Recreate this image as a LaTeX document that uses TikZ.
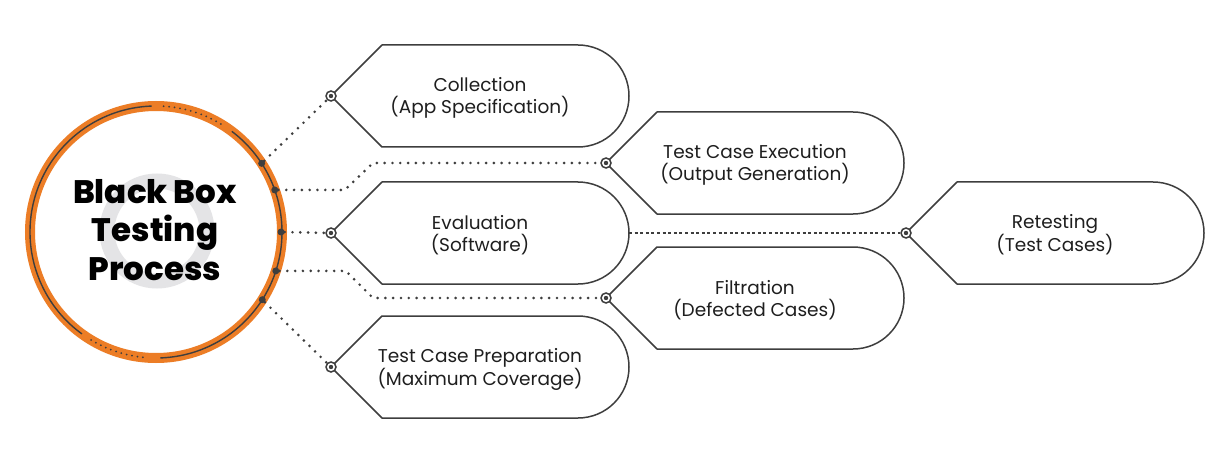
\documentclass[tikz,border=0pt]{standalone}
\usepackage{fontspec}
\setmainfont{Poppins}
\newfontfamily\titlefont{Poppins ExtraBold}
\usetikzlibrary{calc}
\definecolor{ringorange}{RGB}{236,125,38}
\definecolor{darkline}{RGB}{62,62,62}
\definecolor{ringgray}{RGB}{228,228,230}
\definecolor{txt}{RGB}{30,30,30}
\newcommand\stage[4]{%
  \draw[stageline] (#2,#3) -- ++(51,-51) -- ++(196,0)
     arc[start angle=-90,end angle=90,radius=51] -- ++(-196,0) -- cycle;
  \node[dotmark] (#1-in) at (#2,#3) {};
  \coordinate (#1-out) at (#2+298,#3);
  \node[stagetext] (#1) at (#2+149,#3+2) {#4};
}
\begin{document}
\begin{tikzpicture}[x=1pt,y=-1pt,
  stageline/.style={draw=darkline,line width=1.5pt,fill=white,line join=round},
  dotmark/.style={circle,draw=darkline,line width=1.5pt,fill=white,minimum size=10pt,inner sep=0pt,
     path picture={\fill[darkline] (path picture bounding box.center) circle[radius=2.2pt];}},
  stagetext/.style={align=center,text=txt,font=\fontsize{18.5}{21.5}\selectfont},
  ringdot/.style={circle,fill=darkline,minimum size=7pt,inner sep=0pt},
  dotline/.style={draw=darkline,line width=2.9pt,line cap=round,dash pattern=on 0pt off 7.8pt},
  dashline/.style={draw=darkline,line width=1.8pt,dash pattern=on 3pt off 2.6pt},
  ringarc/.style={draw=darkline,line width=1.4pt},
  ringdots/.style={draw=darkline,line width=2pt,line cap=round,dash pattern=on 0pt off 5.5pt}
]
\useasboundingbox[fill=white] (0,0) rectangle (1225,465);

% central circle
\coordinate (C) at (156,232);
\draw[ringgray,line width=15pt] (157,231) circle[radius=50];
\draw[ringorange,line width=10pt] (C) circle[radius=126];
\draw[ringarc] ($(C)+(-92:126)$) arc[start angle=-92,end angle=-234,radius=126];
\draw[ringdots] ($(C)+(-239:126)$) arc[start angle=-239,end angle=-266,radius=126];
\draw[ringarc] ($(C)+(-272:126)$) arc[start angle=-272,end angle=-413,radius=126];
\draw[ringdots] ($(C)+(-59:126)$) arc[start angle=-59,end angle=-87,radius=126];
\node[align=center,font=\fontsize{32.5}{38.5}\selectfont\titlefont,text=black] (title) at (155,230)
  {Black Box\\Testing\\Process};

\node[ringdot] (r1) at ($(C)+(-33:126)$) {};
\node[ringdot] (r2) at ($(C)+(-19.5:126)$) {};
\node[ringdot] (r3) at ($(C)+(0:125)$) {};
\node[ringdot] (r4) at ($(C)+(18:126)$) {};
\node[ringdot] (r5) at ($(C)+(32.5:126)$) {};

% stages
\stage{col}{331}{96}{Collection\\(App Specification)}
\stage{exe}{606}{163}{Test Case Execution\\(Output Generation)}
\stage{eva}{331}{233}{Evaluation\\(Software)}
\stage{ret}{906}{233}{Retesting\\(Test Cases)}
\stage{fil}{606}{298}{Filtration\\(Defected Cases)}
\stage{pre}{331}{367}{Test Case Preparation\\(Maximum Coverage)}

% connectors
\draw[dotline] (r1) -- (col-in);
\draw[dotline] (r2) -- ++(70,0) -- ($(exe-in)+(-233,0)$) -- (exe-in);
\draw[dotline] (r3) -- (eva-in);
\draw[dotline] (r4) -- ++(70,0) -- ($(fil-in)+(-233,0)$) -- (fil-in);
\draw[dotline] (r5) -- (pre-in);
\draw[dashline] (eva-out) -- (ret-in);
\end{tikzpicture}
\end{document}
